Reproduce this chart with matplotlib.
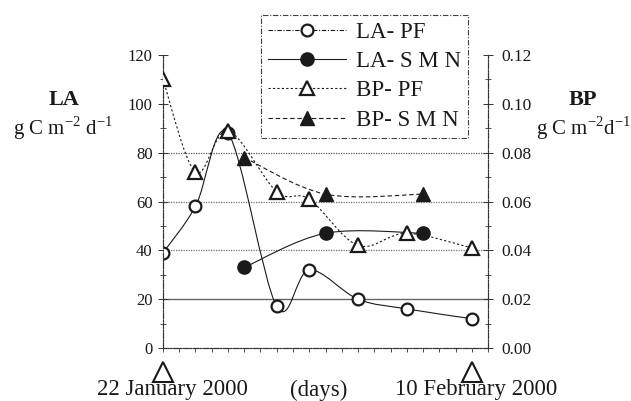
import matplotlib
matplotlib.use("Agg")
import matplotlib.pyplot as plt
import numpy as np
from matplotlib.path import Path
from matplotlib.patches import PathPatch
from matplotlib.lines import Line2D
from matplotlib.ticker import MultipleLocator, FormatStrFormatter

# ---- data ----
la_pf_days = [0, 2, 4, 7, 9, 12, 15, 19]
la_pf_vals = [39, 58, 88, 17, 32, 20, 16, 12]
la_smn_days = [5, 10, 16]
la_smn_vals = [33, 47, 47]
bp_pf_days = [0, 2, 4, 7, 9, 12, 15, 19]
bp_pf_vals = [0.110, 0.072, 0.089, 0.064, 0.061, 0.042, 0.047, 0.041]
bp_smn_days = [5, 10, 16]
bp_smn_vals = [0.078, 0.063, 0.063]
date_marker_days = [0, 19]
date_labels = ["22 January 2000", "(days)", "10 February 2000"]
legend_labels = ["LA- PF", "LA- S M N", "BP- PF", "BP- S M N"]

plt.rcParams['font.family'] = ['Liberation Serif', 'DejaVu Serif']
plt.rcParams['mathtext.fontset'] = 'custom'
plt.rcParams['mathtext.rm'] = 'Liberation Serif'

fig = plt.figure(figsize=(6.31, 4.01), dpi=100)
ax = fig.add_axes([0.2583, 0.1322, 0.5151, 0.7306])
ax2 = ax.twinx()

ax.set_xlim(0, 20)
ax.set_ylim(0, 120)
ax2.set_ylim(0, 0.12)

def smooth_path(xs, ys):
    pts = np.column_stack([xs, ys]).astype(float)
    n = len(pts)
    verts = [pts[0]]
    codes = [Path.MOVETO]
    for i in range(n - 1):
        p0 = pts[i - 1] if i > 0 else pts[i]
        p1 = pts[i]
        p2 = pts[i + 1]
        p3 = pts[i + 2] if i + 2 < n else pts[i + 1]
        c1 = p1 + (p2 - p0) / 6.0
        c2 = p2 - (p3 - p1) / 6.0
        verts += [c1, c2, p2]
        codes += [Path.CURVE4] * 3
    return Path(verts, codes)

ink = '#1a1a1a'
# grid lines
for yv, ls, lw, col in [(20, '-', 1.0, '#666666'), (40, (0, (1, 1)), 0.9, '#777777'),
                        (60, (0, (1, 1)), 0.9, '#777777'), (80, (0, (1, 1)), 0.9, '#555555')]:
    ax.axhline(yv, color=col, lw=lw, ls=ls, zorder=0)

# lines
ax.add_patch(PathPatch(smooth_path(la_pf_days, la_pf_vals), fill=False, ec=ink, lw=0.8, zorder=2))
ax.add_patch(PathPatch(smooth_path(la_smn_days, la_smn_vals), fill=False, ec=ink, lw=0.8, zorder=2))
ax2.add_patch(PathPatch(smooth_path(bp_pf_days, bp_pf_vals), fill=False, ec=ink, lw=0.8,
                        ls=(0, (2, 2)), zorder=2))
ax2.add_patch(PathPatch(smooth_path(bp_smn_days, bp_smn_vals), fill=False, ec=ink, lw=0.8,
                        ls=(0, (4, 2.5)), zorder=2))

# markers
ax.plot(la_pf_days, la_pf_vals, ls='none', marker='o', ms=8.5, mfc='white', mec=ink, mew=1.6, zorder=4)
ax.plot(la_smn_days, la_smn_vals, ls='none', marker='o', ms=9.5, mfc=ink, mec=ink, zorder=4)
ax2.plot(bp_pf_days, bp_pf_vals, ls='none', marker='^', ms=10.5, mfc='white', mec=ink, mew=1.6, zorder=4)
ax2.plot(bp_smn_days, bp_smn_vals, ls='none', marker='^', ms=10.5, mfc=ink, mec=ink, zorder=4)

# date markers below axis
ax.plot(date_marker_days, [-10] * len(date_marker_days), ls='none', marker='^', ms=15,
        mfc='white', mec=ink, mew=1.5, clip_on=False, zorder=5)

# spines
for a in (ax, ax2):
    a.spines['top'].set_visible(False)
    for s in ('left', 'right', 'bottom'):
        a.spines[s].set_linestyle((0, (5, 1.5, 1, 1.5)))
        a.spines[s].set_linewidth(0.8)
        a.spines[s].set_color('#333333')

ax.set_xticks(range(0, 21))
ax.tick_params(axis='x', direction='out', length=3, width=0.6, labelbottom=False, colors='#333333')
ax.yaxis.set_major_locator(MultipleLocator(20))
ax.yaxis.set_minor_locator(MultipleLocator(10))
ax.tick_params(axis='y', which='major', direction='inout', length=7, width=0.7,
               labelsize=12, pad=4, colors='#333333', labelcolor=ink)
ax.tick_params(axis='y', which='minor', direction='inout', length=4, width=0.6, colors='#333333')
ax2.yaxis.set_major_locator(MultipleLocator(0.02))
ax2.yaxis.set_minor_locator(MultipleLocator(0.01))
ax2.yaxis.set_major_formatter(FormatStrFormatter('%.2f'))
ax2.tick_params(axis='y', which='major', direction='inout', length=7, width=0.7,
                labelsize=12.5, pad=6, colors='#333333', labelcolor=ink)
ax2.tick_params(axis='y', which='minor', direction='inout', length=4, width=0.6, colors='#333333')

# axis titles
fig.text(64 / 631, 1 - 100 / 401, 'LA', fontsize=16, fontweight='bold', ha='center', va='center', color=ink)
fig.text(63 / 631, 1 - 128 / 401, r'g C m$^{-2}$ d$^{-1}$', fontsize=15, ha='center', va='center', color=ink)
fig.text(583 / 631, 1 - 100 / 401, 'BP', fontsize=16, fontweight='bold', ha='center', va='center', color=ink)
fig.text(583 / 631, 1 - 128 / 401, r'g C m$^{-2}$d$^{-1}$', fontsize=15, ha='center', va='center', color=ink)

# bottom labels
for lbl, xc in zip(date_labels, [172, 319, 476]):
    fig.text(xc / 631, 1 - 390 / 401, lbl, fontsize=16.5, ha='center', va='center', color=ink)

# legend
handles = [
    Line2D([], [], color=ink, lw=0.8, ls=(0, (4, 1.5, 1, 1.5)), marker='o', ms=8.5, mfc='white', mec=ink, mew=1.6),
    Line2D([], [], color=ink, lw=0.8, ls='-', marker='o', ms=9.5, mfc=ink, mec=ink),
    Line2D([], [], color=ink, lw=0.8, ls=(0, (2, 2)), marker='^', ms=10.5, mfc='white', mec=ink, mew=1.6),
    Line2D([], [], color=ink, lw=0.8, ls=(0, (4, 2.5)), marker='^', ms=10.5, mfc=ink, mec=ink),
]
leg = fig.legend(handles, legend_labels, loc='upper left',
                 bbox_to_anchor=(261 / 631, 1 - 15 / 401), borderaxespad=0,
                 fontsize=16.5, handlelength=3.4, handletextpad=0.45, labelspacing=0.36,
                 borderpad=0.3, fancybox=False, framealpha=1, edgecolor='#444444')
leg.get_frame().set_linestyle((0, (5, 1.5, 1, 1.5)))
leg.get_frame().set_linewidth(0.8)
for t in leg.get_texts():
    t.set_color(ink)

fig.savefig('out.png', dpi=100, facecolor='white')
